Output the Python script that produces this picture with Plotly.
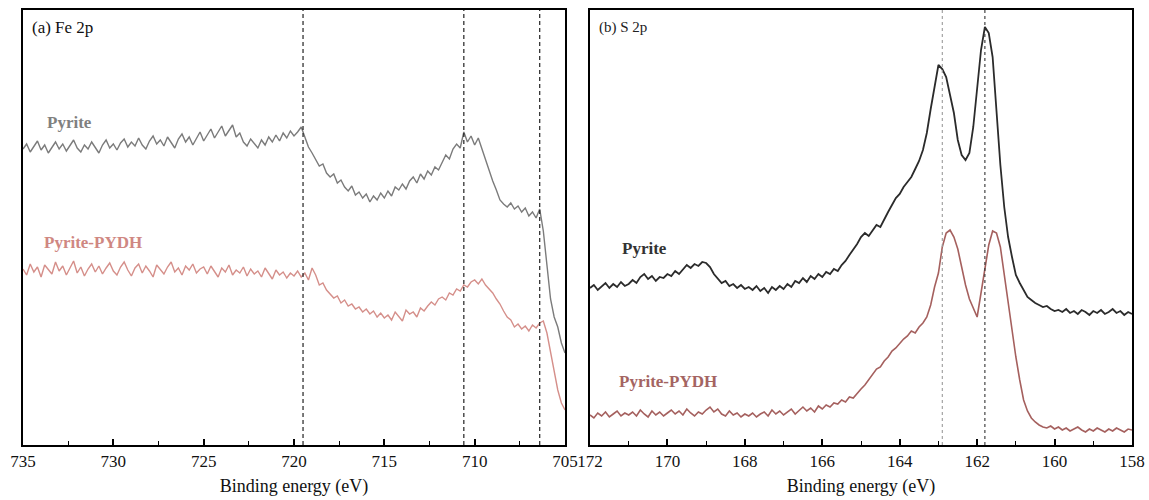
import numpy as np
import plotly.graph_objects as go
from plotly.subplots import make_subplots

# ---------------- Data ----------------
# Fe 2p: binding energy grid 735 -> 705 eV, step 0.2 eV (151 points)
fe_start, fe_step, fe_n = 735.0, -0.2, 151
fe_energy = np.round(fe_start + fe_step * np.arange(fe_n), 2)

fe_pyrite = [
    296, 301, 293, 299, 304, 295, 300, 292, 298, 303, 296, 301, 294, 299, 305, 297,
    293, 300, 296, 303, 298, 292, 300, 305, 297, 301,
    295, 302, 306, 298, 303, 299, 307, 300, 296, 304, 309, 301, 305, 299, 308, 302,
    297, 306, 311, 303, 308, 300, 306, 313, 304,
    310, 316, 307, 313, 319, 309, 315, 320, 308, 312, 303, 299, 306, 301, 297, 305,
    300, 308, 303, 310, 304, 312, 307, 314, 309,
    313, 318, 308, 298, 292, 286, 279, 281, 272, 268, 271, 262, 265, 258, 254, 259,
    250, 253, 247, 251, 243, 249, 245, 252, 247,
    254, 249, 258, 255, 261, 256, 264, 268, 262, 271, 266, 274, 270, 278, 275, 283,
    290, 286, 296, 301, 297, 313, 303, 309, 300,
    307, 296, 286, 275, 264, 255, 245, 241, 238, 242, 236, 239, 233, 237, 229, 233,
    227, 236, 214, 180, 146, 128, 118, 102, 92,
]

fe_pydh = [
    176, 170, 181, 173, 178, 168, 180, 175, 171, 183, 174, 179, 170, 177, 184, 172,
    178, 169, 176, 181, 173, 179, 171, 177, 182, 174,
    170, 178, 183, 175, 169, 177, 181, 172, 179, 174, 168, 180, 176, 171, 178, 183,
    173, 177, 170, 179, 175, 181, 172, 176, 178,
    171, 179, 174, 168, 177, 173, 180, 170, 175, 172, 178, 169, 176, 171, 174, 168,
    177, 172, 166, 175, 170, 173, 167, 172, 169,
    174, 168, 172, 165, 177, 170, 160, 162, 155, 151, 147, 149, 142, 145, 139, 141,
    136, 138, 133, 136, 131, 134, 128, 132, 127,
    130, 125, 133, 129, 124, 135, 131, 133, 128, 137, 134, 139, 143, 140, 146, 148,
    145, 152, 150, 156, 154, 160, 158, 163, 165,
    161, 166, 160, 156, 152, 146, 141, 134, 128, 125, 118, 121, 116, 119, 114, 120,
    117, 122, 124, 112, 92, 72, 55, 42, 35,
]

# S 2p: binding energy grid 172 -> 158 eV, step 0.1 eV (141 points)
s_start, s_step, s_n = 172.0, -0.1, 141
s_energy = np.round(s_start + s_step * np.arange(s_n), 2)

s_pyrite = [
    157, 160, 155, 159, 162, 157, 161, 158, 163, 159, 161,
    165, 162, 168, 171, 166, 169, 164, 168, 167, 171,
    169, 174, 171, 176, 180, 177, 181, 179, 183, 182,
    178, 171, 166, 162, 164, 159, 161, 157, 160, 156,
    158, 155, 159, 154, 157, 152, 158, 155, 159, 156,
    161, 158, 164, 162, 167, 163, 169, 166, 171, 168,
    173, 171, 176, 174, 180, 184, 190, 195, 201, 208,
    212, 209, 215, 220, 218, 226, 233, 240, 247, 251,
    258, 263, 268, 276, 284, 295, 312, 336, 358, 380,
    376, 368, 350, 332, 305, 290, 285, 292, 318, 355,
    395, 418, 412, 388, 330, 280, 238, 208, 188, 170,
    162, 155, 148, 145, 142, 140, 138, 139, 136, 134,
    135, 133, 136, 132, 134, 131, 135, 133, 130, 134,
    132, 135, 131, 133, 136, 132, 134, 130, 133, 131,
]

s_pydh = [
    30, 27, 32, 29, 33, 28, 31, 34, 29, 32, 30,
    33, 29, 35, 31, 28, 34, 30, 33, 29, 32,
    35, 31, 34, 30, 36, 32, 29, 33, 31, 35,
    38, 33, 36, 31, 29, 34, 30, 32, 28, 31,
    29, 32, 28, 31, 33, 29, 35, 31, 34, 30,
    33, 36, 31, 35, 38, 34, 37, 33, 39, 36,
    40, 38, 42, 41, 45, 43, 48, 47, 52, 56,
    60, 65, 70, 76, 78, 84, 88, 94, 97, 102,
    106, 109, 114, 112, 118, 122, 128, 140, 158, 172,
    198, 212, 215, 208, 196, 178, 160, 146, 136, 128,
    152, 178, 200, 214, 212, 198, 170, 145, 118, 88,
    65, 45, 34, 27, 23, 20, 18, 17, 19, 16,
    18, 15, 17, 14, 16, 18, 15, 13, 16, 14,
    17, 15, 13, 16, 14, 17, 15, 13, 16, 15,
]

fe_ref_lines = [719.5, 710.6, 706.4]
s_ref_lines = [162.9, 161.8]

fe_ticks = [735, 730, 725, 720, 715, 710, 705]
s_ticks = [172, 170, 168, 166, 164, 162, 160, 158]

# ---------------- Styling ----------------
FONT = "Liberation Serif, Times New Roman, serif"
C_FE_PY = "#7b7b7b"
C_FE_PD = "#d58f8a"
C_S_PY = "#2b2b2b"
C_S_PD = "#a5605e"

W, H = 1149, 500
x1 = (23 / W, 565 / W)
x2 = (590 / W, 1132 / W)

fig = make_subplots(rows=1, cols=2)

fig.add_trace(go.Scatter(x=fe_energy, y=fe_pyrite, mode="lines",
                         line=dict(color=C_FE_PY, width=1.4), showlegend=False), 1, 1)
fig.add_trace(go.Scatter(x=fe_energy, y=fe_pydh, mode="lines",
                         line=dict(color=C_FE_PD, width=1.4), showlegend=False), 1, 1)
fig.add_trace(go.Scatter(x=s_energy, y=s_pyrite, mode="lines",
                         line=dict(color=C_S_PY, width=1.8), showlegend=False), 1, 2)
fig.add_trace(go.Scatter(x=s_energy, y=s_pydh, mode="lines",
                         line=dict(color=C_S_PD, width=1.6), showlegend=False), 1, 2)

for e in fe_ref_lines:
    fig.add_vline(x=e, line=dict(color="#222222", width=1.2, dash="4px,3px"), row=1, col=1)
s_line_colors = ["#9a9a9a", "#333333"]
for e, c in zip(s_ref_lines, s_line_colors):
    fig.add_vline(x=e, line=dict(color=c, width=1.1, dash="dot"), row=1, col=2)

axis_common = dict(showline=True, linecolor="black", linewidth=1.6, mirror=True,
                   showgrid=False, zeroline=False, automargin=False)

fig.update_xaxes(**axis_common, domain=list(x1), range=[735, 705], tickvals=fe_ticks,
                 ticks="inside", ticklen=6, tickwidth=1.5, tickcolor="black",
                 minor=dict(ticks="inside", ticklen=4, tickwidth=1.3, dtick=2.5,
                            tick0=735, tickcolor="black"),
                 title=dict(text="Binding energy (eV)", font=dict(family=FONT, size=18, color="#111"),
                            standoff=9),
                 tickfont=dict(family=FONT, size=17, color="#111"), row=1, col=1)
fig.update_xaxes(**axis_common, domain=list(x2), range=[172, 158], tickvals=s_ticks,
                 ticks="inside", ticklen=6, tickwidth=1.5, tickcolor="black",
                 minor=dict(ticks="inside", ticklen=4, tickwidth=1.3, dtick=1,
                            tick0=172, tickcolor="black"),
                 title=dict(text="Binding energy (eV)", font=dict(family=FONT, size=18, color="#111"),
                            standoff=9),
                 tickfont=dict(family=FONT, size=17, color="#111"), row=1, col=2)
fig.update_yaxes(**axis_common, range=[0, 435], showticklabels=False, ticks="")

ann = []
ann.append(dict(text="(a) Fe 2p", xref="x domain", yref="y domain", x=0.012, y=0.959,
                xanchor="left", yanchor="middle", showarrow=False,
                font=dict(family=FONT, size=17, color="#111")))
ann.append(dict(text="(b) S 2p", xref="x2 domain", yref="y2 domain", x=0.012, y=0.959,
                xanchor="left", yanchor="middle", showarrow=False,
                font=dict(family=FONT, size=15, color="#222")))
ann.append(dict(text="<b>Pyrite</b>", xref="x", yref="y", x=733.8, y=323,
                xanchor="left", yanchor="middle", showarrow=False,
                font=dict(family=FONT, size=17, color="#808080")))
ann.append(dict(text="<b>Pyrite-PYDH</b>", xref="x", yref="y", x=733.95, y=203,
                xanchor="left", yanchor="middle", showarrow=False,
                font=dict(family=FONT, size=17, color="#cf8782")))
ann.append(dict(text="<b>Pyrite</b>", xref="x2", yref="y2", x=171.23, y=197,
                xanchor="left", yanchor="middle", showarrow=False,
                font=dict(family=FONT, size=17, color="#333333")))
ann.append(dict(text="<b>Pyrite-PYDH</b>", xref="x2", yref="y2", x=171.3, y=64,
                xanchor="left", yanchor="middle", showarrow=False,
                font=dict(family=FONT, size=17, color="#a46462")))

fig.update_layout(width=W, height=H, margin=dict(l=0, r=0, t=10, b=55),
                  paper_bgcolor="white", plot_bgcolor="white",
                  annotations=list(fig.layout.annotations) + ann,
                  font=dict(family=FONT))

fig.write_html("out.html")
